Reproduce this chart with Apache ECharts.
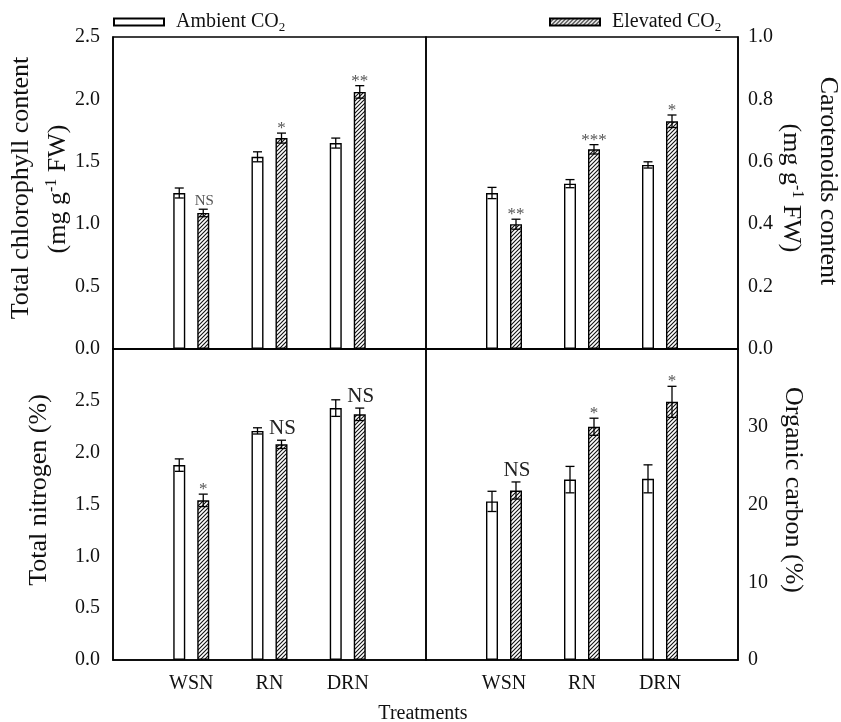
<!DOCTYPE html>
<html><head><meta charset="utf-8">
<script src="https://cdn.jsdelivr.net/npm/echarts@6/dist/echarts.min.js"></script>
<style>html,body{margin:0;padding:0;background:#fff}#c{width:841px;height:722px}</style>
</head><body><div id="c"></div>
<script>
const categories = ['WSN', 'RN', 'DRN'];

const chlAmb = [1.25, 1.54, 1.65];
const chlAmbErr = [0.04, 0.04, 0.04];
const chlElev = [1.09, 1.69, 2.06];
const chlElevErr = [0.03, 0.04, 0.05];
const chlSig = ['NS', '*', '**'];

const carAmb = [0.50, 0.53, 0.59];
const carAmbErr = [0.018, 0.013, 0.01];
const carElev = [0.40, 0.64, 0.73];
const carElevErr = [0.016, 0.015, 0.02];
const carSig = ['**', '***', '*'];

const nitAmb = [1.88, 2.21, 2.43];
const nitAmbErr = [0.06, 0.03, 0.08];
const nitElev = [1.54, 2.08, 2.37];
const nitElevErr = [0.06, 0.04, 0.06];
const nitSig = ['*', 'NS', 'NS'];

const ocAmb = [20.4, 23.2, 23.3];
const ocAmbErr = [1.3, 1.7, 1.8];
const ocElev = [21.8, 30.0, 33.2];
const ocElevErr = [1.1, 1.1, 2.0];
const ocSig = ['NS', '*', '*'];

const chlTicks = [0, 0.5, 1.0, 1.5, 2.0, 2.5];
const carTicks = [0, 0.2, 0.4, 0.6, 0.8, 1.0];
const nitTicks = [0, 0.5, 1.0, 1.5, 2.0, 2.5, 3.0];
const ocTicks = [0, 10, 20, 30, 40];

const FONT = 'Liberation Serif';
const AMB = 'Ambient CO2';
const ELEV = 'Elevated CO2';

// hatch pattern
const pc = document.createElement('canvas');
pc.width = 4; pc.height = 4;
const g = pc.getContext('2d');
g.fillStyle = '#fff'; g.fillRect(0, 0, 4, 4);
g.strokeStyle = '#111'; g.lineWidth = 1.1;
g.beginPath();
g.moveTo(-1, 5); g.lineTo(5, -1);
g.moveTo(-1, 1); g.lineTo(1, -1);
g.moveTo(3, 5); g.lineTo(5, 3);
g.stroke();
const hatch = { image: pc, repeat: 'repeat' };

const axisCats = [''].concat(categories).concat(['']);
const grids = [
  { left: 113, top: 37, width: 313, height: 312 },
  { left: 426, top: 37, width: 312, height: 312 },
  { left: 113, top: 349, width: 313, height: 311 },
  { left: 426, top: 349, width: 312, height: 311 }
];
const panels = [
  { amb: chlAmb, ambErr: chlAmbErr, elev: chlElev, elevErr: chlElevErr, sig: chlSig, ticks: chlTicks, dec: 1, right: false, bottom: false },
  { amb: carAmb, ambErr: carAmbErr, elev: carElev, elevErr: carElevErr, sig: carSig, ticks: carTicks, dec: 1, right: true, bottom: false },
  { amb: nitAmb, ambErr: nitAmbErr, elev: nitElev, elevErr: nitElevErr, sig: nitSig, ticks: nitTicks, dec: 1, right: false, bottom: true },
  { amb: ocAmb, ambErr: ocAmbErr, elev: ocElev, elevErr: ocElevErr, sig: ocSig, ticks: ocTicks, dec: 0, right: true, bottom: true }
];

const xAxis = [], yAxis = [], series = [];
panels.forEach((p, i) => {
  const tmax = p.ticks[p.ticks.length - 1];
  xAxis.push({
    type: 'category', gridIndex: i, data: axisCats, boundaryGap: false,
    axisLine: { show: true, lineStyle: { color: '#000', width: 1.5 } },
    axisTick: { show: false },
    axisLabel: { show: p.bottom, interval: 0, color: '#111', fontFamily: FONT, fontSize: 20, margin: 14 },
    splitLine: { show: false }
  });
  yAxis.push({
    type: 'value', gridIndex: i, min: p.ticks[0], max: tmax,
    interval: p.ticks[1] - p.ticks[0],
    position: p.right ? 'right' : 'left',
    axisLine: { show: true, lineStyle: { color: '#000', width: 1.5 } },
    axisTick: { show: false },
    splitLine: { show: false },
    axisLabel: {
      color: '#111', fontFamily: FONT, fontSize: 20, margin: p.right ? 10 : 13,
      formatter: v => (p.bottom && Math.abs(v - tmax) < 1e-9) ? '' : v.toFixed(p.dec)
    }
  });
  const mk = arr => arr.map((v, k) => [k + 1, v]);
  series.push({
    name: AMB, type: 'bar', xAxisIndex: i, yAxisIndex: i, barWidth: 12, barGap: '100%',
    itemStyle: { color: '#fff', borderColor: '#000', borderWidth: 1.4 },
    data: mk(p.amb), animation: false, z: 2
  });
  series.push({
    name: ELEV, type: 'bar', xAxisIndex: i, yAxisIndex: i, barWidth: 12, barGap: '100%',
    itemStyle: { color: hatch, borderColor: '#000', borderWidth: 1.4 },
    data: mk(p.elev), animation: false, z: 2
  });
  const eb = [];
  p.amb.forEach((v, k) => eb.push([k + 1, v, p.ambErr[k], -12, '']));
  p.elev.forEach((v, k) => eb.push([k + 1, v, p.elevErr[k], 12, p.sig[k]]));
  series.push({
    type: 'custom', xAxisIndex: i, yAxisIndex: i, animation: false, z: 5,
    data: eb,
    renderItem: function (params, api) {
      const cat = api.value(0), m = api.value(1), e = api.value(2), off = api.value(3);
      const s = eb[params.dataIndex][4];
      const pt = api.coord([cat, m + e]);
      const pb = api.coord([cat, m - e]);
      const x = pt[0] + off;
      const st = { stroke: '#000', lineWidth: 1.3 };
      const children = [
        { type: 'line', shape: { x1: x, y1: pt[1], x2: x, y2: pb[1] }, style: st },
        { type: 'line', shape: { x1: x - 4.5, y1: pt[1], x2: x + 4.5, y2: pt[1] }, style: st },
        { type: 'line', shape: { x1: x - 4.5, y1: pb[1], x2: x + 4.5, y2: pb[1] }, style: st }
      ];
      if (s) {
        const big = s === 'NS' && p.bottom;
        const isNS = s === 'NS';
        children.push({
          type: 'text',
          style: {
            text: s, x: x + (isNS ? 1 : 0), y: pt[1] - (isNS ? 1 : -4),
            align: 'center', verticalAlign: 'bottom',
            fontFamily: FONT, fontSize: big ? 21 : (isNS ? 15 : 17),
            fill: big ? '#222' : '#555'
          }
        });
      }
      return { type: 'group', children: children };
    }
  });
});

const legRich = { sub: { fontFamily: FONT, fontSize: 13, padding: [12, 0, 0, 0] } };
const legendBase = {
  orient: 'horizontal', itemWidth: 50, itemHeight: 7, itemGap: 10, top: 12, padding: 0,
  icon: 'rect',
  textStyle: { fontFamily: FONT, fontSize: 20, color: '#111', rich: legRich, padding: [0, 0, 0, 7] },
  formatter: n => n.replace('CO2', 'CO{sub|2}'),
  selectedMode: false
};

const TS = 26;
const supRich = { sup: { fontFamily: FONT, fontSize: 16, padding: [0, 0, 13, 0] } };
const option = {
  animation: false,
  backgroundColor: '#fff',
  grid: grids.map(gg => Object.assign({ show: true, borderColor: '#000', borderWidth: 1.5, backgroundColor: 'transparent' }, gg)),
  xAxis: xAxis,
  yAxis: yAxis,
  legend: [
    Object.assign({}, legendBase, { data: [AMB], left: 113 }),
    Object.assign({}, legendBase, { data: [ELEV], left: 549 })
  ],
  series: series,
  graphic: [
    { type: 'text', x: 21, y: 188, rotation: Math.PI / 2,
      style: { text: 'Total chlorophyll content', fontFamily: FONT, fontSize: TS, fill: '#111', align: 'center', verticalAlign: 'middle' } },
    { type: 'text', x: 58, y: 189, rotation: Math.PI / 2,
      style: { text: '(mg g{sup|-1} FW)', fontFamily: FONT, fontSize: TS, fill: '#111', align: 'center', verticalAlign: 'middle', rich: supRich } },
    { type: 'text', x: 828, y: 181, rotation: -Math.PI / 2,
      style: { text: 'Carotenoids content', fontFamily: FONT, fontSize: TS, fill: '#111', align: 'center', verticalAlign: 'middle' } },
    { type: 'text', x: 791, y: 188, rotation: -Math.PI / 2,
      style: { text: '(mg g{sup|-1} FW)', fontFamily: FONT, fontSize: TS, fill: '#111', align: 'center', verticalAlign: 'middle', rich: supRich } },
    { type: 'text', x: 39, y: 490, rotation: Math.PI / 2,
      style: { text: 'Total nitrogen (%)', fontFamily: FONT, fontSize: TS, fill: '#111', align: 'center', verticalAlign: 'middle' } },
    { type: 'text', x: 793, y: 490, rotation: -Math.PI / 2,
      style: { text: 'Organic carbon (%)', fontFamily: FONT, fontSize: TS, fill: '#111', align: 'center', verticalAlign: 'middle' } },
    { type: 'text', x: 423, y: 714,
      style: { text: 'Treatments', fontFamily: FONT, fontSize: 20, fill: '#111', align: 'center', verticalAlign: 'middle' } }
  ]
};

const chart = echarts.init(document.getElementById('c'), null, { renderer: 'canvas' });
chart.setOption(option);
</script></body></html>
